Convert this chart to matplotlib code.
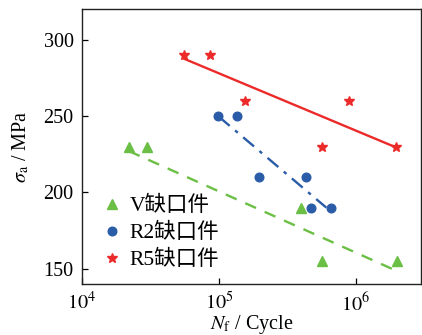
import numpy as np
import matplotlib
matplotlib.use('Agg')
import matplotlib.pyplot as plt
from matplotlib.ticker import FixedLocator, FixedFormatter, NullLocator

plt.rcParams['font.family'] = ['Liberation Serif', 'Noto Sans CJK SC']
plt.rcParams['mathtext.fontset'] = 'stix'

# V notch specimens
v_n = [2.2e4, 3.0e4, 3.96e5, 5.7e5, 2.0e6]
v_s = [230, 230, 190, 155, 155]
v_fit_n = [2.2e4, 2.0e6]
v_fit_s = [227, 148.5]

# R2 notch specimens
r2_n = [9.8e4, 1.36e5, 1.97e5, 4.33e5, 4.73e5, 6.6e5]
r2_s = [250, 250, 210, 210, 190, 190]
r2_fit_n = [1.0e5, 6.1e5]
r2_s_fit = [249.5, 190]

# R5 notch specimens
r5_n = [5.55e4, 8.6e4, 1.56e5, 8.9e5, 5.66e5, 1.96e6]
r5_s = [290, 290, 260, 260, 230, 230]
r5_fit_n = [5.55e4, 1.96e6]
r5_fit_s = [287.5, 229.5]

labels = ['V缺口件', 'R2缺口件', 'R5缺口件']
c_green = '#6cbf45'
c_blue = '#2b5ca8'
c_red = '#ec2a2a'

fig = plt.figure(figsize=(4.22, 3.35), dpi=100)
ax = fig.add_axes([82 / 422, 51 / 335, 339 / 422, 275 / 335])

ax.plot(v_fit_n, v_fit_s, color=c_green, lw=1.7, ls=(0, (5, 4)))
ax.plot(r2_fit_n, r2_s_fit, color=c_blue, lw=1.7, ls=(0, (6, 3, 1.5, 3)))
ax.plot(r5_fit_n, r5_fit_s, color=c_red, lw=1.7, ls='-')

ax.plot(v_n, v_s, ls='none', marker='^', ms=7, color=c_green, label=labels[0])
ax.plot(r2_n, r2_s, ls='none', marker='o', ms=6.2, color=c_blue, label=labels[1])
ax.plot(r5_n, r5_s, ls='none', marker='*', ms=7.5, color=c_red, label=labels[2])

ax.set_xscale('log')
ax.set_xlim(1e4, 3e6)
ax.set_ylim(140, 320)
ax.xaxis.set_major_locator(FixedLocator([1e4, 1e5, 1e6]))
ax.xaxis.set_major_formatter(FixedFormatter([r'$10^4$', r'$10^5$', r'$10^6$']))
ax.xaxis.set_minor_locator(NullLocator())
ax.set_yticks([150, 200, 250, 300])

ax.tick_params(direction='in', length=4, width=0.9, labelsize=14.5, pad=6)
for s in ax.spines.values():
    s.set_linewidth(1.0)
    s.set_color('#222222')

ax.set_xlabel(r'$N_{\rm f}$ / Cycle', fontsize=14.5, labelpad=-2)
ax.set_ylabel(r'$\sigma_{\rm a}$ / MPa', fontsize=14.5, labelpad=9)

ax.legend(loc='lower left', frameon=False, fontsize=15.5, handlelength=0.8,
          handletextpad=0.4, labelspacing=0.32, borderaxespad=0.3,
          bbox_to_anchor=(0.02, -0.005))

fig.savefig('out.png', dpi=100)
